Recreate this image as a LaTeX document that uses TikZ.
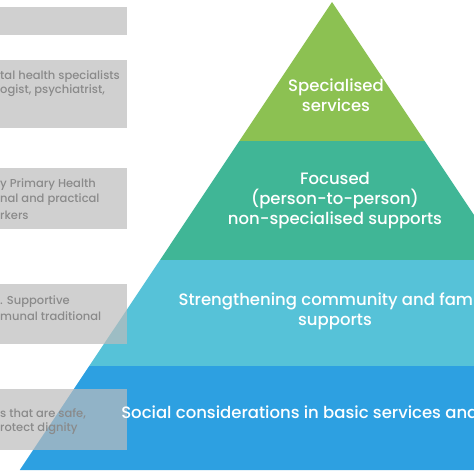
\documentclass[tikz,border=0pt]{standalone}
\usepackage{fontspec}
\setmainfont{Poppins}
\newfontfamily\popm{Poppins Medium}
\definecolor{cgreen}{HTML}{8CC152}
\definecolor{cteal}{HTML}{40B696}
\definecolor{clblue}{HTML}{56C2D8}
\definecolor{cdblue}{HTML}{2DA0E1}
\definecolor{cbox}{HTML}{BCBCBC}
\definecolor{cboxtext}{HTML}{8A8A8A}
\begin{document}
\begin{tikzpicture}[x=1pt,y=-1pt,
  band/.style={draw=none},
  sidebox/.style={fill=cbox,fill opacity=0.7,draw=none},
  boxtext/.style={anchor=west,inner sep=0pt,text=cboxtext,font=\popm\fontsize{11.5}{15}\selectfont,align=left},
  pyrtext/.style={text=white,font=\popm\fontsize{16.5}{20}\selectfont,align=center,inner sep=0pt}]
\useasboundingbox (0,0) rectangle (474,474);
\clip (0,0) rectangle (474,474);
% pyramid bands
\fill[cgreen] (332,2) -- (424.7,141) -- (239.3,141) -- cycle;
\fill[cteal] (239.3,141) -- (424.7,141) -- (504,260) -- (160,260) -- cycle;
\fill[clblue] (160,260) -- (504,260) -- (574.8,366) -- (89.2,366) -- cycle;
\fill[cdblue] (89.2,366) -- (574.8,366) -- (644,470) -- (19.8,470) -- cycle;
% side boxes
\fill[sidebox] (0,7) rectangle (127,35);
\fill[sidebox] (0,60) rectangle (127,128);
\fill[sidebox] (0,168) rectangle (127,229);
\fill[sidebox] (0,284) rectangle (127,344);
\fill[sidebox] (0,389) rectangle (127,450);
% side box texts
\node[boxtext] (b2a) at (0,77) {tal health specialists};
\node[boxtext] (b2b) at (0,91) {ogist, psychiatrist,};
\node[boxtext] (b3a) at (0,185) {y Primary Health};
\node[boxtext] (b3b) at (0,200) {nal and practical};
\node[boxtext] (b3c) at (0,215) {rkers};
\node[boxtext] (b4a) at (0,302) {. Supportive};
\node[boxtext] (b4b) at (0,316) {munal traditional};
\node[boxtext] (b5a) at (0,414) {s that are safe,};
\node[boxtext] (b5b) at (0,429) {rotect dignity};
% pyramid texts
\node[pyrtext] (t1) at (336,95) {Specialised\\services};
\node[pyrtext] (t2) at (335,201) {Focused\\(person-to-person)\\non-specialised supports};
\node[pyrtext] (t3) at (335,311) {Strengthening community and family\\supports};
\node[pyrtext] (t4) at (335,414) {Social considerations in basic services and security};
\end{tikzpicture}
\end{document}
